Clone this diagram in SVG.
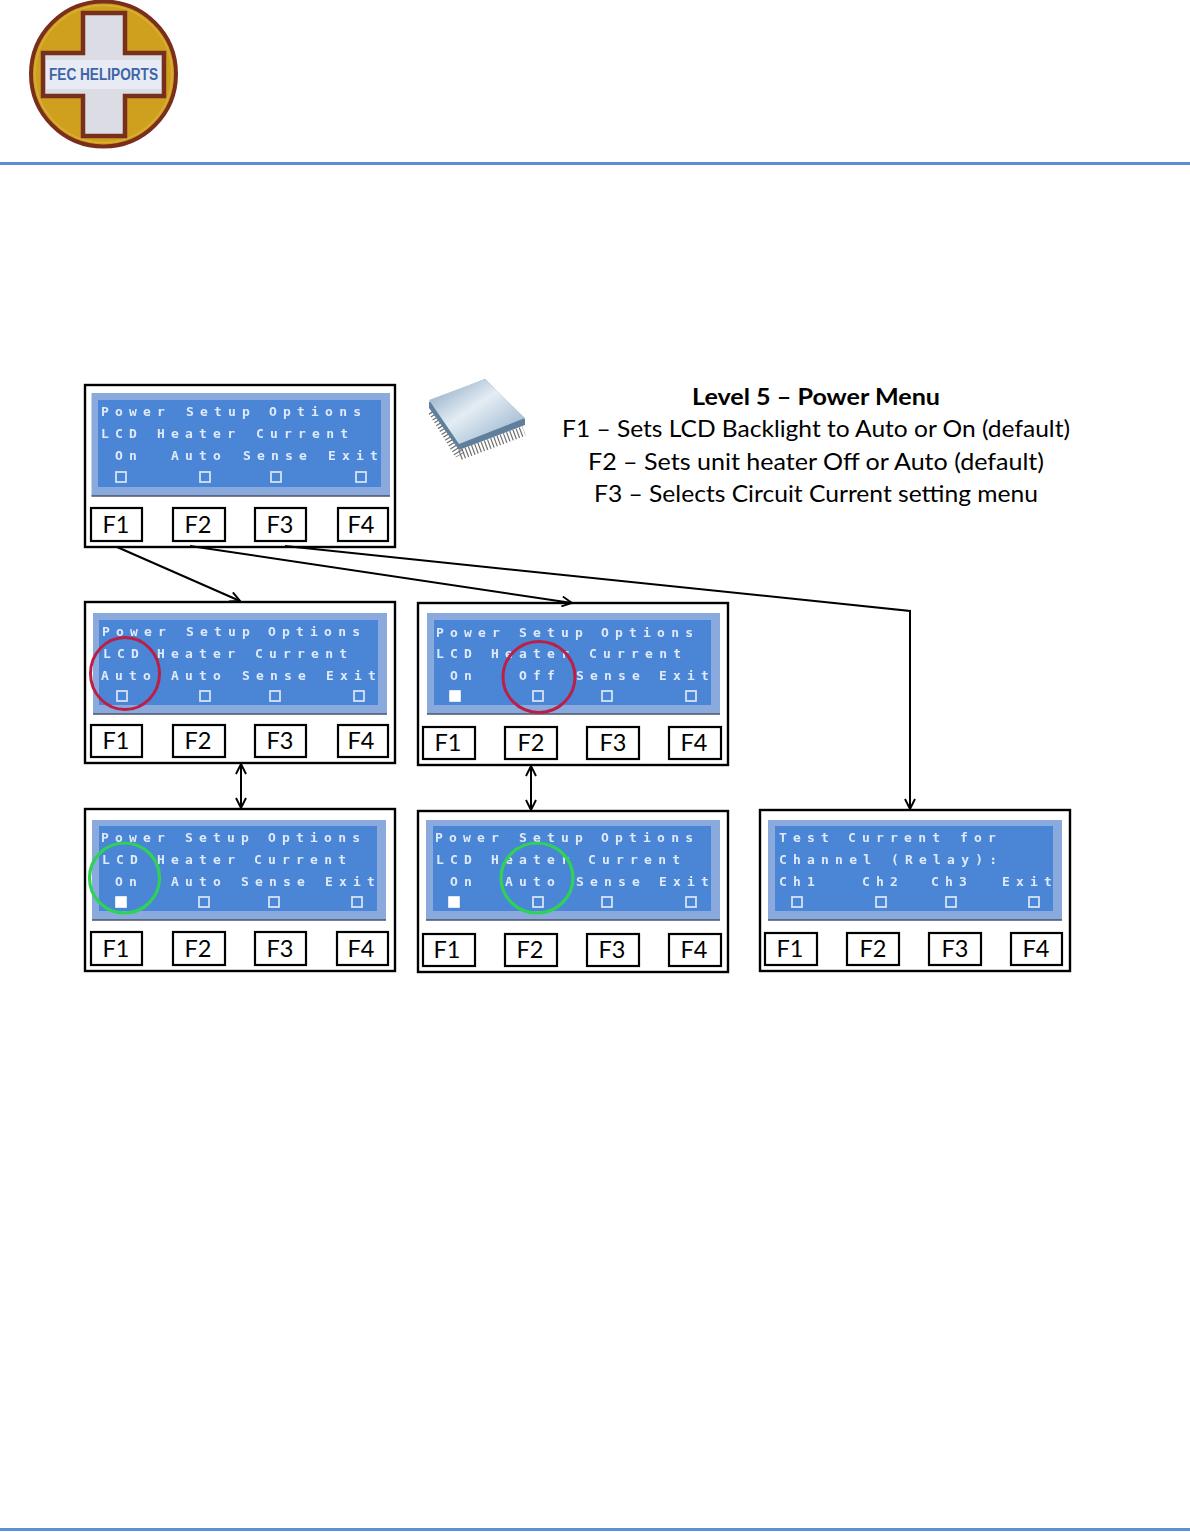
<svg xmlns="http://www.w3.org/2000/svg" width="1190" height="1532" viewBox="0 0 1190 1532">
<style>
.frame{fill:#fff;stroke:#000;stroke-width:2.4}
.btn{fill:#fff;stroke:#000;stroke-width:2.2}
.bt{font-family:Lato,"Liberation Sans",sans-serif;font-size:23.5px;fill:#000;text-anchor:middle}
.lo{fill:#8aaade}
.edge{stroke:#4a5568;stroke-width:1.5}
.li{fill:#4a85d6}
.lt{font-family:"DejaVu Sans Mono","Liberation Mono",monospace;font-weight:bold;font-size:13px;letter-spacing:6.2px;fill:#dfeafa;filter:url(#soft)}
.sq{fill:none;stroke:#d4e2f6;stroke-width:1.8}
.on{fill:#fff;stroke:#fff;stroke-width:1.6}
.conn{fill:none;stroke:#000;stroke-width:2}
.cap{font-family:Lato,"Liberation Sans",sans-serif;font-size:23px;fill:#000}
.rule{fill:#5b8fd8}
.red{fill:none;stroke:#bd1f44;stroke-width:3}
.grn{fill:none;stroke:#2ed256;stroke-width:3.2}
</style>
<defs>
<filter id="soft" x="-5%" y="-20%" width="110%" height="140%"><feGaussianBlur stdDeviation="0.35"/></filter>
<marker id="open" viewBox="0 0 12 12" refX="11" refY="6" markerWidth="12" markerHeight="12" markerUnits="userSpaceOnUse" orient="auto-start-reverse"><path d="M1 1 L11 6 L1 11" fill="none" stroke="#000" stroke-width="1.9"/></marker>
<linearGradient id="chip" x1="0" y1="0" x2="1" y2="1"><stop offset="0" stop-color="#7f9fbc"/><stop offset=".45" stop-color="#e4edf4"/><stop offset="1" stop-color="#8aa9c6"/></linearGradient>
</defs>
<rect id="rule-top" class="rule" x="0" y="162" width="1190" height="3"/>
<rect id="rule-bottom" class="rule" x="0" y="1528" width="1190" height="3"/>
<g id="logo">
<circle cx="103.500" cy="74" r="72.500" fill="#cfa01e" stroke="#7a2f1c" stroke-width="4"/>
<circle cx="103.500" cy="74" r="68.500" fill="none" stroke="#dcae36" stroke-width="1.500"/>
<path d="M83 13H125V53H164V96H125V136H83V96H43V53H83Z" fill="#dcdce4" stroke="#77301c" stroke-width="4.500"/>
<rect x="46" y="60" width="115" height="29" fill="#e8ebf3"/>
<text x="103.500" y="80" font-family="Liberation Sans,sans-serif" font-weight="bold" font-size="16" text-anchor="middle" textLength="109" lengthAdjust="spacingAndGlyphs" fill="#3d64a8">FEC HELIPORTS</text>
</g>
<g id="chip-icon">
<path d="M433 411L460 455" fill="none" stroke="#6f6f6f" stroke-width="10" stroke-dasharray="1.2 2.2"/>
<path d="M460 455L524 431" fill="none" stroke="#6f6f6f" stroke-width="10" stroke-dasharray="1.2 2.2"/>
<polygon points="429,402 485,379 525,419 525,425 459,450 429,408" fill="#5f7f9c"/>
<polygon points="429,400 485,379 525,418 459,444" fill="url(#chip)"/>
</g>
<g id="caption">
<text class="cap" x="816" y="405" font-weight="bold" text-anchor="middle" textLength="248" lengthAdjust="spacingAndGlyphs">Level 5 – Power Menu</text>
<text class="cap" x="816" y="437" text-anchor="middle" textLength="508" lengthAdjust="spacingAndGlyphs">F1 – Sets LCD Backlight to Auto or On (default)</text>
<text class="cap" x="816" y="470" text-anchor="middle" textLength="456" lengthAdjust="spacingAndGlyphs">F2 – Sets unit heater Off or Auto (default)</text>
<text class="cap" x="816" y="502" text-anchor="middle" textLength="444" lengthAdjust="spacingAndGlyphs">F3 – Selects Circuit Current setting menu</text>
</g>
<g id="panel-main">
<rect class="frame" x="85" y="385" width="310" height="162"/>
<rect class="lo" x="91.500" y="393" width="298.500" height="103"/><line class="edge" x1="91.500" y1="496" x2="390" y2="496"/>
<rect class="li" x="98" y="400" width="283" height="87"/>
<text class="lt" x="101" y="416">Power</text><text class="lt" x="186" y="416">Setup</text><text class="lt" x="269" y="416">Options</text>
<text class="lt" x="101" y="438">LCD</text><text class="lt" x="157" y="438">Heater</text><text class="lt" x="256" y="438">Current</text>
<text class="lt" x="115" y="460">On</text><text class="lt" x="171" y="460">Auto</text><text class="lt" x="243" y="460">Sense</text><text class="lt" x="328" y="460">Exit</text>
<rect class="sq" x="116" y="472" width="10" height="10"/><rect class="sq" x="200" y="472" width="10" height="10"/><rect class="sq" x="271" y="472" width="10" height="10"/><rect class="sq" x="356" y="472" width="10" height="10"/>
<rect class="btn" x="91" y="508" width="51" height="33"/><text class="bt" x="116" y="533">F1</text>
<rect class="btn" x="173" y="508" width="52" height="33"/><text class="bt" x="198" y="533">F2</text>
<rect class="btn" x="255" y="508" width="51" height="33"/><text class="bt" x="280" y="533">F3</text>
<rect class="btn" x="338" y="508" width="50" height="33"/><text class="bt" x="361" y="533">F4</text>
</g>
<g id="panel-lcd-auto">
<rect class="frame" x="85" y="602" width="310" height="161"/>
<rect class="lo" x="93" y="613" width="294" height="101"/><line class="edge" x1="93" y1="714" x2="387" y2="714"/>
<rect class="li" x="99" y="620" width="279" height="85"/>
<text class="lt" x="102" y="636">Power</text><text class="lt" x="186" y="636">Setup</text><text class="lt" x="268" y="636">Options</text>
<text class="lt" x="103" y="658">LCD</text><text class="lt" x="157" y="658">Heater</text><text class="lt" x="255" y="658">Current</text>
<text class="lt" x="101" y="680">Auto</text><text class="lt" x="171" y="680">Auto</text><text class="lt" x="242" y="680">Sense</text><text class="lt" x="326" y="680">Exit</text>
<rect class="sq" x="117" y="691" width="10" height="10"/><rect class="sq" x="200" y="691" width="10" height="10"/><rect class="sq" x="270" y="691" width="10" height="10"/><rect class="sq" x="354" y="691" width="10" height="10"/>
<ellipse class="red" cx="125" cy="673.500" rx="34.500" ry="36"/>
<rect class="btn" x="91" y="725" width="51" height="32"/><text class="bt" x="116" y="749">F1</text>
<rect class="btn" x="173" y="725" width="52" height="32"/><text class="bt" x="198" y="749">F2</text>
<rect class="btn" x="255" y="725" width="51" height="32"/><text class="bt" x="280" y="749">F3</text>
<rect class="btn" x="338" y="725" width="50" height="32"/><text class="bt" x="361" y="749">F4</text>
</g>
<g id="panel-lcd-on">
<rect class="frame" x="85" y="809" width="310" height="162"/>
<rect class="lo" x="92" y="820" width="294" height="100"/><line class="edge" x1="92" y1="920" x2="386" y2="920"/>
<rect class="li" x="99" y="826" width="278" height="85"/>
<text class="lt" x="101" y="842">Power</text><text class="lt" x="185" y="842">Setup</text><text class="lt" x="268" y="842">Options</text>
<text class="lt" x="102" y="864">LCD</text><text class="lt" x="157" y="864">Heater</text><text class="lt" x="254" y="864">Current</text>
<text class="lt" x="115" y="886">On</text><text class="lt" x="171" y="886">Auto</text><text class="lt" x="241" y="886">Sense</text><text class="lt" x="325" y="886">Exit</text>
<rect class="on" x="116" y="897" width="10" height="10"/><rect class="sq" x="199" y="897" width="10" height="10"/><rect class="sq" x="269" y="897" width="10" height="10"/><rect class="sq" x="352" y="897" width="10" height="10"/>
<ellipse class="grn" cx="124.500" cy="878" rx="35" ry="35"/>
<rect class="btn" x="91" y="932" width="51" height="33"/><text class="bt" x="116" y="957">F1</text>
<rect class="btn" x="173" y="932" width="52" height="33"/><text class="bt" x="198" y="957">F2</text>
<rect class="btn" x="255" y="932" width="51" height="33"/><text class="bt" x="280" y="957">F3</text>
<rect class="btn" x="337" y="932" width="51" height="33"/><text class="bt" x="361" y="957">F4</text>
</g>
<g id="panel-heater-off">
<rect class="frame" x="418" y="603" width="310" height="162"/>
<rect class="lo" x="427" y="613" width="293" height="101"/><line class="edge" x1="427" y1="714" x2="720" y2="714"/>
<rect class="li" x="434" y="620" width="277" height="85"/>
<text class="lt" x="436" y="637">Power</text><text class="lt" x="519" y="637">Setup</text><text class="lt" x="601" y="637">Options</text>
<text class="lt" x="436" y="658">LCD</text><text class="lt" x="491" y="658">Heater</text><text class="lt" x="589" y="658">Current</text>
<text class="lt" x="450" y="680">On</text><text class="lt" x="519" y="680">Off</text><text class="lt" x="576" y="680">Sense</text><text class="lt" x="659" y="680">Exit</text>
<rect class="on" x="450" y="691" width="10" height="10"/><rect class="sq" x="533" y="691" width="10" height="10"/><rect class="sq" x="602" y="691" width="10" height="10"/><rect class="sq" x="686" y="691" width="10" height="10"/>
<ellipse class="red" cx="539" cy="677" rx="36" ry="35.500"/>
<rect class="btn" x="423" y="727" width="52" height="32"/><text class="bt" x="448" y="751">F1</text>
<rect class="btn" x="505" y="727" width="52" height="32"/><text class="bt" x="531" y="751">F2</text>
<rect class="btn" x="587" y="727" width="52" height="32"/><text class="bt" x="613" y="751">F3</text>
<rect class="btn" x="669" y="727" width="52" height="32"/><text class="bt" x="694" y="751">F4</text>
</g>
<g id="panel-heater-auto">
<rect class="frame" x="418" y="811" width="310" height="161"/>
<rect class="lo" x="426" y="820" width="294" height="100"/><line class="edge" x1="426" y1="920" x2="720" y2="920"/>
<rect class="li" x="433" y="826" width="278" height="85"/>
<text class="lt" x="435" y="842">Power</text><text class="lt" x="519" y="842">Setup</text><text class="lt" x="601" y="842">Options</text>
<text class="lt" x="436" y="864">LCD</text><text class="lt" x="491" y="864">Heater</text><text class="lt" x="588" y="864">Current</text>
<text class="lt" x="450" y="886">On</text><text class="lt" x="505" y="886">Auto</text><text class="lt" x="576" y="886">Sense</text><text class="lt" x="659" y="886">Exit</text>
<rect class="on" x="449" y="897" width="10" height="10"/><rect class="sq" x="533" y="897" width="10" height="10"/><rect class="sq" x="602" y="897" width="10" height="10"/><rect class="sq" x="686" y="897" width="10" height="10"/>
<ellipse class="grn" cx="537" cy="878" rx="36" ry="35"/>
<rect class="btn" x="423" y="934" width="52" height="32"/><text class="bt" x="447" y="958">F1</text>
<rect class="btn" x="505" y="934" width="52" height="32"/><text class="bt" x="530" y="958">F2</text>
<rect class="btn" x="587" y="934" width="52" height="32"/><text class="bt" x="612" y="958">F3</text>
<rect class="btn" x="669" y="934" width="52" height="32"/><text class="bt" x="694" y="958">F4</text>
</g>
<g id="panel-test-current">
<rect class="frame" x="760" y="810" width="310" height="161"/>
<rect class="lo" x="768" y="820" width="294" height="100"/><line class="edge" x1="768" y1="920" x2="1062" y2="920"/>
<rect class="li" x="775" y="826" width="278" height="85"/>
<text class="lt" x="779" y="842">Test</text><text class="lt" x="848" y="842">Current</text><text class="lt" x="960" y="842">for</text>
<text class="lt" x="779" y="864">Channel</text><text class="lt" x="891" y="864">(Relay):</text>
<text class="lt" x="779" y="886">Ch1</text><text class="lt" x="862" y="886">Ch2</text><text class="lt" x="931" y="886">Ch3</text><text class="lt" x="1002" y="886">Exit</text>
<rect class="sq" x="792" y="897" width="10" height="10"/><rect class="sq" x="876" y="897" width="10" height="10"/><rect class="sq" x="946" y="897" width="10" height="10"/><rect class="sq" x="1029" y="897" width="10" height="10"/>
<rect class="btn" x="765" y="933" width="52" height="32"/><text class="bt" x="790" y="957">F1</text>
<rect class="btn" x="847" y="933" width="52" height="32"/><text class="bt" x="873" y="957">F2</text>
<rect class="btn" x="929" y="933" width="52" height="32"/><text class="bt" x="955" y="957">F3</text>
<rect class="btn" x="1011" y="933" width="51" height="32"/><text class="bt" x="1036" y="957">F4</text>
</g>
<g id="connectors">
<line class="conn" x1="117" y1="547" x2="240" y2="601" marker-end="url(#open)"/>
<line class="conn" x1="190" y1="546" x2="572" y2="603" marker-end="url(#open)"/>
<polyline class="conn" points="285,546 910,611 910,809" marker-end="url(#open)"/>
<line class="conn" x1="241" y1="764" x2="241" y2="808" marker-start="url(#open)" marker-end="url(#open)"/>
<line class="conn" x1="531" y1="766" x2="531" y2="810" marker-start="url(#open)" marker-end="url(#open)"/>
</g>
</svg>
